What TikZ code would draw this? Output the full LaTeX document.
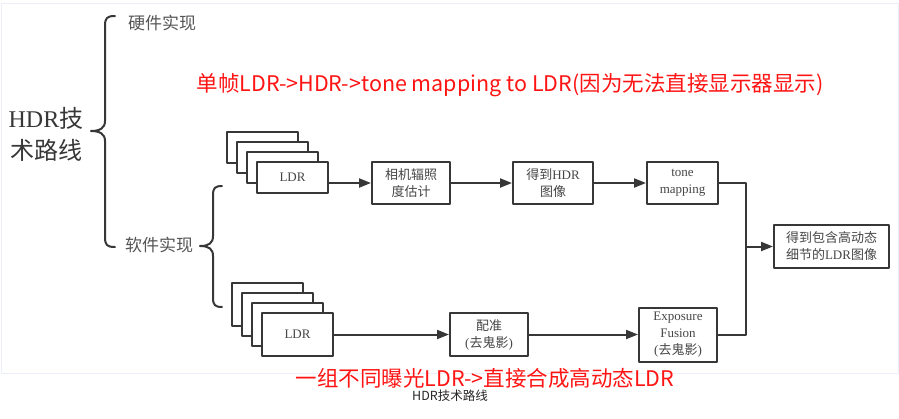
\documentclass[tikz,border=0pt]{standalone}
\usepackage{fontspec}
\setmainfont{Liberation Serif}
\newfontfamily\cjk{Noto Sans CJK SC}
\usetikzlibrary{arrows.meta}
\usetikzlibrary{positioning}

\begin{document}
\begin{tikzpicture}[x=1pt, y=-1pt, >={Triangle[length=12pt,width=9pt]}, line join=round]

	\definecolor{lineA}{RGB}{55,55,55}
	\definecolor{textA}{RGB}{70,70,70}
	\definecolor{textB}{RGB}{85,85,85}
	\definecolor{redA}{RGB}{255,20,20}
	\definecolor{frameA}{RGB}{236,238,250}

	\tikzset{
		box/.style={draw=lineA, line width=2pt, fill=white, text=textA, align=center, inner sep=0pt, font=\fontsize{13}{17}\selectfont},
		arrowA/.style={->, line width=2pt, draw=lineA},
		joinline/.style={line width=2pt, draw=lineA},
		brace/.style={line width=2pt, draw=lineA, line cap=round},
		branch/.style={text=textB, font=\cjk\fontsize{17}{20}\selectfont},
		note/.style={text=redA, font=\cjk\fontsize{21.5}{24}\selectfont},
	}

	\useasboundingbox (0,0) rectangle (899,418);

	% --- frame of the figure
	\draw[frameA, line width=1pt] (1,3) rectangle (898,373);

	% --- root and the two branches
	\node[text=lineA, align=center, font=\fontsize{24}{32}\selectfont] (root) at (46,134) {HDR{\cjk 技}\\{\cjk 术路线}};
	\node[branch] (hw) at (162,23) {硬件实现};
	\node[branch] (sw) at (159,245) {软件实现};

	% big brace
	\draw[brace] (115,16) .. controls (107,16) and (105,18) .. (105,26) -- (105,121)
		.. controls (105,128) and (100,131) .. (91,131)
		.. controls (100,131) and (105,134) .. (105,141) -- (105,237)
		.. controls (105,245) and (107,247) .. (115,247);
	% small brace
	\draw[brace] (222,186) .. controls (215,186) and (213,188) .. (213,195) -- (213,236)
		.. controls (213,243) and (209,246) .. (200,246)
		.. controls (209,246) and (213,249) .. (213,256) -- (213,298)
		.. controls (213,305) and (215,307) .. (222,307);

	% --- single frame route
	\foreach \d in {30,20,10}
		\node[box, minimum width=71pt, minimum height=31pt] (ldrA\d) at ({292.5-\d},{177.5-\d}) {};
	\node[box, minimum width=71pt, minimum height=31pt] (ldrA) at (292.5,177.5) {LDR};
	\node[box, minimum width=78pt, minimum height=42pt] (cam) at (411,183) {{\cjk 相机辐照}\\{\cjk 度估计}};
	\node[box, minimum width=80pt, minimum height=42pt] (hdr) at (553,183) {{\cjk 得到}HDR\\{\cjk 图像}};
	\node[box, minimum width=71pt, minimum height=42pt] (tone) at (682.5,183) {tone\\mapping};

	\draw[arrowA] (ldrA.east |- cam.west) -- (cam.west);
	\draw[arrowA] (cam) -- (hdr);
	\draw[arrowA] (hdr) -- (tone);

	% --- multi exposure route
	\foreach \d in {30,20,10}
		\node[box, minimum width=71pt, minimum height=43pt] (ldrB\d) at ({297.5-\d},{334.5-\d}) {};
	\node[box, minimum width=71pt, minimum height=43pt] (ldrB) at (297.5,334.5) {LDR};
	\node[box, minimum width=78pt, minimum height=43pt] (align) at (489,334.5) {{\cjk 配准}\\({\cjk 去鬼影})};
	\node[box, minimum width=78pt, minimum height=54pt] (fusion) at (678,334.5) {Exposure\\Fusion\\({\cjk 去鬼影})};

	\draw[arrowA] (ldrB) -- (align);
	\draw[arrowA] (align) -- (fusion);

	% --- result
	\node[box, minimum width=115pt, minimum height=43pt] (res) at (831.5,246.5) {{\cjk 得到包含高动态}\\{\cjk 细节的}LDR{\cjk 图像}};
	\coordinate (join) at (746,246.5);
	\draw[joinline] (tone.east) -| (join);
	\draw[joinline] (fusion.east) -| (join);
	\draw[arrowA] (join) -- (res.west);

	% --- red notes and caption
	\node[note] (note1) at (510,85) {单帧LDR->HDR->tone mapping to LDR(因为无法直接显示器显示)};
	\node[note] (note2) at (485,378) {一组不同曝光LDR->直接合成高动态LDR};
	\node[text=black!85, font=\cjk\fontsize{12.5}{14}\selectfont] (cap) at (450,396) {HDR技术路线};

\end{tikzpicture}
\end{document}
